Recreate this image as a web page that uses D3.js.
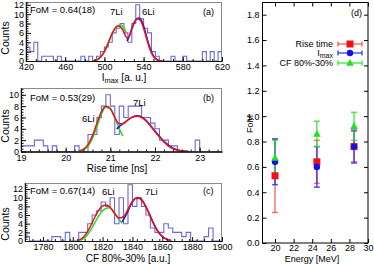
<!DOCTYPE html>
<html><head><meta charset="utf-8">
<script src="https://cdn.jsdelivr.net/npm/d3@7"></script>
<style>body{margin:0;background:#fff} svg{display:block} text{font-family:"Liberation Sans",Arial,Helvetica,sans-serif;fill:#000}</style>
</head><body><svg id="c" width="374" height="264"></svg>
<script>
// ---------- Panel (a): I_max ----------
const aStart = 420, aWidth = 4;
const aCounts = [3,2,4,0,1,1,1,0,1,0, 0,0,0,0,1,0,1,0,1,2, 3,4,6,7,8,6,4,8,12,9, 7,6,2,1,0,0,0,1,0,0, 1,0,0,0,0,2,0,2,0,2];
const aRed = [[488,0],[492,0.2],[496,0.8],[500,2.0],[504,3.9],[508,5.9],[512,7.3],[515,7.5],[518,6.9],[521,5.6],[523,4.9],[525,5.2],[528,6.9],[531,8.4],[534,9.0],[537,8.6],[540,7.0],[543,4.8],[546,2.8],[549,1.3],[552,0.5],[556,0.1],[560,0]];
const aGreen = [[490,0.1],[494,0.5],[498,1.3],[502,2.9],[506,4.9],[510,6.7],[514,7.6],[517,7.7],[520,7.0],[522,6.2]];
const aBlue = [[523,4.3],[526,5.6],[529,7.5],[532,8.8],[535,9.2],[538,8.6],[541,6.8],[544,4.5],[547,2.5],[550,1.1],[553,0.4],[557,0]];
const aXTicks = [420,460,500,540,580,620];
const aYTicks = [0,2,4,6,8,10,12];

// ---------- Panel (b): Rise time ----------
const bStart = 19.0, bWidth = 0.1;
const bCounts = [1,1,1,2,2,1,0,1,0,0, 0,0,1,0,0,3,3,6,8,10, 8,3,8,6,8,8,8,6,6,5, 4,2,2,1,1,0,0,0,0,2, 0,0,0,0,0];
const bRed = [[20.30,0.1],[20.40,0.4],[20.50,1.2],[20.60,2.8],[20.70,5.0],[20.80,7.0],[20.90,8.0],[21.00,7.6],[21.10,6.0],[21.20,4.9],[21.30,5.0],[21.40,5.6],[21.50,6.1],[21.60,6.2],[21.70,6.0],[21.80,5.4],[21.90,4.5],[22.00,3.5],[22.10,2.6],[22.20,1.7],[22.30,1.0],[22.40,0.5],[22.50,0.25],[22.60,0.1],[22.75,0]];
const bGreen = [[20.30,0.05],[20.40,0.3],[20.50,0.9],[20.60,2.3],[20.70,4.4],[20.80,6.6],[20.90,7.8],[21.00,7.5],[21.10,5.9],[21.20,4.0],[21.28,2.7]];
const bBlue = [[21.14,4.0],[21.20,4.4],[21.30,5.0],[21.40,5.6],[21.50,6.1],[21.60,6.3],[21.70,6.1],[21.80,5.5],[21.90,4.6],[22.00,3.6],[22.20,1.8],[22.40,0.6],[22.60,0.1],[22.75,0]];
const bXTicks = [19,20,21,22,23];
const bYTicks = [0,2,4,6,8,10];

// ---------- Panel (c): CF 80%-30% ----------
const cStart = 1768, cWidth = 3;
const cCounts = [1,0,0,0,0,0,1,1,0,2, 0,0,2,2,4,6,7,9,8,10, 4,10,4,13,8,10,8,6,3,2, 2,4,3,2,2,1,2,0,0,0, 1,3,0,0];
const cRed = [[1804,0.2],[1807,0.8],[1810,2.2],[1813,4.2],[1816,6.3],[1819,7.8],[1822,8.3],[1825,7.8],[1828,6.4],[1831,5.3],[1834,5.6],[1837,7.3],[1840,9.2],[1843,10.0],[1846,9.5],[1849,7.9],[1852,5.6],[1855,3.4],[1858,1.8],[1861,0.8],[1864,0.3],[1866,0.1]];
const cGreen = [[1804,0.1],[1807,0.5],[1810,1.5],[1813,3.1],[1816,5.0],[1819,6.6],[1822,7.5],[1825,7.7],[1828,6.4],[1831,5.0],[1833,4.1]];
const cBlue = [[1833,4.4],[1836,6.2],[1839,8.4],[1842,9.8],[1845,9.9],[1848,8.6],[1851,6.5],[1854,4.2],[1857,2.3],[1860,1.0],[1863,0.4],[1866,0.1]];
const cXTicks = [1780,1800,1820,1840,1860,1880,1900];
const cYTicks = [0,2,4,6,8,10,12];

// ---------- Panel (d): FoM vs energy ----------
const energies = [20, 24.5, 28.5];
const riseFoM = [0.53, 0.64, 0.76], riseErr = [0.29, 0.17, 0.12];
const imaxFoM = [0.64, 0.60, 0.76], imaxErr = [0.18, 0.16, 0.13];
const cfFoM   = [0.67, 0.86, 0.92], cfErr   = [0.14, 0.10, 0.11];
const dXTicks = [20,22,24,26,28,30];
const dYTicks = [0,0.2,0.4,0.6,0.8,1.0,1.2,1.4,1.6,1.8];

const svg = d3.select("#c");
const HIST = "#6a6ad2";
const FONT = '"Liberation Sans",Arial,sans-serif';

function histPanel(o) {
  const g = svg.append("g");
  const x = d3.scaleLinear(o.xd, o.xr), y = d3.scaleLinear(o.yd, o.yr);
  const id = "clip" + o.tag;
  svg.append("clipPath").attr("id", id).append("rect")
    .attr("x", o.xr[0]).attr("y", o.yr[1]).attr("width", o.xr[1]-o.xr[0]).attr("height", o.yr[0]-o.yr[1]);
  g.append("rect").attr("x", o.xr[0]).attr("y", o.yr[1]+0.5).attr("width", o.xr[1]-o.xr[0]-0.5)
    .attr("height", o.yr[0]-o.yr[1]).attr("fill","none").attr("stroke","#8a8a8a").attr("stroke-width",1);
  const pts = [[o.start, 0]];
  o.counts.forEach((c,i)=>{ pts.push([o.start+i*o.w, c]); pts.push([o.start+(i+1)*o.w, c]); });
  pts.push([o.start+o.counts.length*o.w, 0]);
  g.append("path").attr("clip-path",`url(#${id})`).attr("d", d3.line().x(d=>x(d[0])).y(d=>y(d[1]))(pts))
    .attr("fill","none").attr("stroke",HIST).attr("stroke-width",1.1);
  const ln = d3.line().x(d=>x(d[0])).y(d=>y(d[1])).curve(d3.curveMonotoneX);
  [[o.green,"#22e022"],[o.blue,"#1010f0"],[o.red,"#f01010"]].forEach(([dat,col])=>{
    g.append("path").attr("clip-path",`url(#${id})`).attr("d", ln(dat)).attr("fill","none").attr("stroke",col).attr("stroke-width",1.5);
  });
  const ax = g.append("g").attr("transform",`translate(0,${o.yr[0]})`)
    .call(d3.axisBottom(x).tickValues(o.xt).tickFormat(d3.format("d")).tickSizeInner(-4).tickSizeOuter(0).tickPadding(3));
  const axm = g.append("g").attr("transform",`translate(0,${o.yr[0]})`)
    .call(d3.axisBottom(x).tickValues(d3.range(o.xd[0], o.xd[1]+1e-9, o.xm)).tickFormat("").tickSizeInner(-2).tickSizeOuter(0));
  const ay = g.append("g").attr("transform",`translate(${o.xr[0]},0)`)
    .call(d3.axisLeft(y).tickValues(o.yt).tickFormat(d3.format("d")).tickSizeInner(-5).tickSizeOuter(0).tickPadding(2));
  const aym = g.append("g").attr("transform",`translate(${o.xr[0]},0)`)
    .call(d3.axisLeft(y).tickValues(d3.range(0, o.yd[1], 0.5)).tickFormat("").tickSizeInner(-2.5).tickSizeOuter(0));
  [ax,axm,ay,aym].forEach(a=>{a.selectAll("path").attr("stroke","#111"); a.selectAll("line").attr("stroke","#111");
    a.selectAll("text").style("font-size","9px").attr("fill","#000").style("font-family",FONT);});
  g.append("text").attr("transform",`translate(${o.cty[0]},${o.cty[1]}) rotate(-90)`).attr("text-anchor","middle").style("font-size","10.5px").text("Counts");
  const xt = g.append("text").attr("x",o.ctx[0]).attr("y",o.ctx[1]).attr("text-anchor","middle").style("font-size","10px");
  if (o.xtitle === "Imax") { xt.append("tspan").text("I"); xt.append("tspan").attr("dy",2.5).style("font-size","7.5px").text("max"); xt.append("tspan").attr("dy",-2.5).text(" [a. u.]"); }
  else xt.text(o.xtitle);
  g.append("text").attr("x",o.fom[0]).attr("y",o.fom[1]).style("font-size","9.5px").text(o.fomText);
  o.labels.forEach(l=>g.append("text").attr("x",l[0]).attr("y",l[1]).style("font-size","9.5px").text(l[2]));
  g.append("text").attr("x",o.tagPos[0]).attr("y",o.tagPos[1]).style("font-size","9px").text(`(${o.tag})`);
}

histPanel({tag:"a", xd:[420,620], xr:[26,222], yd:[0,12.6], yr:[61,2], start:aStart, w:aWidth, counts:aCounts,
  red:aRed, green:aGreen, blue:aBlue, xt:aXTicks, yt:aYTicks, xm:10,
  cty:[9,38], ctx:[124,80.5], xtitle:"Imax", fom:[30,13], fomText:"FoM = 0.64(18)",
  labels:[[110,15,"7Li"],[142,15,"6Li"]], tagPos:[203,15]});
histPanel({tag:"b", xd:[19,23.5], xr:[21,222], yd:[0,11.2], yr:[151.5,88], start:bStart, w:bWidth, counts:bCounts,
  red:bRed, green:bGreen, blue:bBlue, xt:bXTicks, yt:bYTicks, xm:0.2,
  cty:[9,126], ctx:[117,171.5], xtitle:"Rise time [ns]", fom:[30,101], fomText:"FoM = 0.53(29)",
  labels:[[82,122,"6Li"],[133,106,"7Li"]], tagPos:[203,101]});
histPanel({tag:"c", xd:[1768,1900], xr:[25,222], yd:[0,13.4], yr:[241,183], start:cStart, w:cWidth, counts:cCounts,
  red:cRed, green:cGreen, blue:cBlue, xt:cXTicks, yt:cYTicks, xm:5,
  cty:[9,224], ctx:[128,261.5], xtitle:"CF 80%-30% [a.u.]", fom:[30,194], fomText:"FoM = 0.67(14)",
  labels:[[102,195,"6Li"],[145,195,"7Li"]], tagPos:[203,194]});

// ---------- Panel (d) ----------
(function(){
  const g = svg.append("g");
  const x = d3.scaleLinear([18.6,30],[262,368]), y = d3.scaleLinear([0,1.9],[243,2]);
  g.append("rect").attr("x",262.5).attr("y",2.5).attr("width",105.5).attr("height",240.5).attr("fill","none").attr("stroke","#000");
  const ax = g.append("g").attr("transform","translate(0,243)").call(d3.axisBottom(x).tickValues(dXTicks).tickFormat(d3.format("d")).tickSizeInner(-4).tickSizeOuter(0).tickPadding(2));
  const axt = g.append("g").attr("transform","translate(0,2.5)").call(d3.axisTop(x).tickValues(dXTicks).tickFormat("").tickSizeInner(-4).tickSizeOuter(0));
  const ay = g.append("g").attr("transform","translate(262.5,0)").call(d3.axisLeft(y).tickValues(dYTicks).tickFormat(d3.format(".1f")).tickSizeInner(-4).tickSizeOuter(0).tickPadding(3));
  const ayr = g.append("g").attr("transform","translate(368,0)").call(d3.axisRight(y).tickValues(dYTicks).tickFormat("").tickSizeInner(-4).tickSizeOuter(0));
  [ax,axt,ay,ayr].forEach(a=>{a.select(".domain").remove(); a.selectAll("line").attr("stroke","#000");
    a.selectAll("text").style("font-size","9px").attr("fill","#000").style("font-family",FONT);});
  g.append("text").attr("x",312).attr("y",262).attr("text-anchor","middle").style("font-size","9px").text("Energy [MeV]");
  g.append("text").attr("transform","translate(253,124) rotate(-90)").attr("text-anchor","middle").style("font-size","9px").text("FoM");
  g.append("text").attr("x",351).attr("y",16).style("font-size","9px").text("(d)");
  const series = [
    {v:riseFoM, e:riseErr, line:"rgba(255,40,40,0.65)", fill:"#f01010", m:"square", ly:44, name:"Rise time"},
    {v:imaxFoM, e:imaxErr, line:"rgba(30,30,255,0.75)", fill:"#1010f0", m:"circle", ly:53, name:"Imax"},
    {v:cfFoM,   e:cfErr,   line:"rgba(40,230,40,0.8)", fill:"#22e022", m:"triangle", ly:63, name:"CF 80%-30%"}
  ];
  function marker(sel, m, cx, cy, col){
    if (m==="square") sel.append("rect").attr("x",cx-3.5).attr("y",cy-3.5).attr("width",7).attr("height",7).attr("fill",col);
    else if (m==="circle") sel.append("circle").attr("cx",cx).attr("cy",cy).attr("r",3.2).attr("fill",col);
    else sel.append("path").attr("d",`M${cx},${cy-4}L${cx+3.8},${cy+2.8}L${cx-3.8},${cy+2.8}Z`).attr("fill",col);
  }
  series.forEach(s=>{
    energies.forEach((en,i)=>{
      const px = x(en), y0 = y(s.v[i]-s.e[i]), y1 = y(s.v[i]+s.e[i]);
      g.append("line").attr("x1",px).attr("x2",px).attr("y1",y0).attr("y2",y1).attr("stroke",s.line).attr("stroke-width",1.5);
      [y0,y1].forEach(yy=>g.append("line").attr("x1",px-3).attr("x2",px+3).attr("y1",yy).attr("y2",yy).attr("stroke",s.line).attr("stroke-width",1.5));
    });
  });
  series.forEach(s=>energies.forEach((en,i)=>marker(g, s.m, x(en), y(s.v[i]), s.fill)));
  series.forEach(s=>{
    g.append("line").attr("x1",338).attr("x2",362).attr("y1",s.ly).attr("y2",s.ly).attr("stroke",s.line).attr("stroke-width",1.5);
    [338,362].forEach(xx=>g.append("line").attr("x1",xx).attr("x2",xx).attr("y1",s.ly-2.5).attr("y2",s.ly+2.5).attr("stroke",s.line).attr("stroke-width",1.5));
    marker(g, s.m, 350, s.ly, s.fill);
    const t = g.append("text").attr("x",333).attr("y",s.ly+3.3).attr("text-anchor","end").style("font-size","9px");
    if (s.name==="Imax") { t.append("tspan").text("I"); t.append("tspan").attr("dy",2).style("font-size","7px").text("max"); }
    else t.text(s.name);
  });
})();
</script></body></html>
